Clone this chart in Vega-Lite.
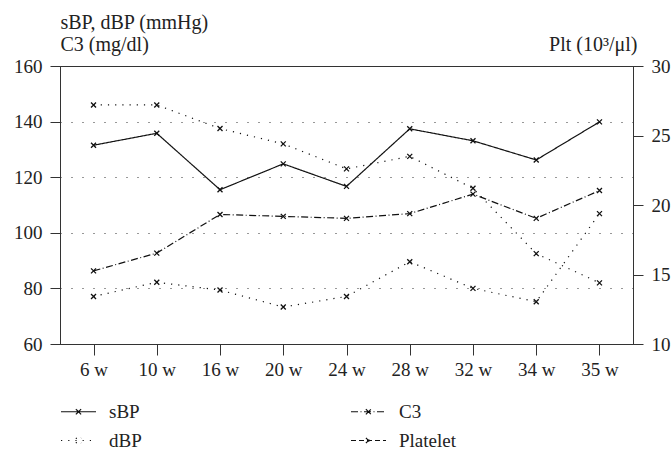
{
 "$schema": "https://vega.github.io/schema/vega-lite/v6.json",
 "width": 573,
 "height": 278,
 "autosize": {"type": "none"},
 "padding": {"left": 60, "top": 66, "right": 39, "bottom": 107},
 "background": "white",
 "config": {
  "view": {"stroke": "#333", "strokeWidth": 1},
  "font": "Liberation Serif",
  "axis": {"labelFont": "Liberation Serif", "titleFont": "Liberation Serif", "labelFontSize": 19, "titleFontSize": 20, "labelColor": "#222", "titleColor": "#222", "domainColor": "#333", "tickColor": "#333", "titleFontWeight": "normal"},
  "legend": {"labelFont": "Liberation Serif", "titleFont": "Liberation Serif"}
 },
 "data": {"values": [
  {"week": "6 w", "series": "sBP", "value": 131.5},
  {"week": "10 w", "series": "sBP", "value": 135.8},
  {"week": "16 w", "series": "sBP", "value": 115.5},
  {"week": "20 w", "series": "sBP", "value": 124.8},
  {"week": "24 w", "series": "sBP", "value": 116.7},
  {"week": "28 w", "series": "sBP", "value": 137.4},
  {"week": "32 w", "series": "sBP", "value": 133.1},
  {"week": "34 w", "series": "sBP", "value": 126.2},
  {"week": "35 w", "series": "sBP", "value": 139.9},
  {"week": "6 w", "series": "dBP", "value": 77.1},
  {"week": "10 w", "series": "dBP", "value": 82.2},
  {"week": "16 w", "series": "dBP", "value": 79.4},
  {"week": "20 w", "series": "dBP", "value": 73.3},
  {"week": "24 w", "series": "dBP", "value": 77.1},
  {"week": "28 w", "series": "dBP", "value": 89.6},
  {"week": "32 w", "series": "dBP", "value": 80.0},
  {"week": "34 w", "series": "dBP", "value": 75.2},
  {"week": "35 w", "series": "dBP", "value": 106.9},
  {"week": "6 w", "series": "C3", "value": 86.3},
  {"week": "10 w", "series": "C3", "value": 92.7},
  {"week": "16 w", "series": "C3", "value": 106.6},
  {"week": "20 w", "series": "C3", "value": 105.9},
  {"week": "24 w", "series": "C3", "value": 105.2},
  {"week": "28 w", "series": "C3", "value": 106.9},
  {"week": "32 w", "series": "C3", "value": 113.9},
  {"week": "34 w", "series": "C3", "value": 105.2},
  {"week": "35 w", "series": "C3", "value": 115.2},
  {"week": "6 w", "series": "Platelet", "value": 27.2},
  {"week": "10 w", "series": "Platelet", "value": 27.2},
  {"week": "16 w", "series": "Platelet", "value": 25.5},
  {"week": "20 w", "series": "Platelet", "value": 24.4},
  {"week": "24 w", "series": "Platelet", "value": 22.6},
  {"week": "28 w", "series": "Platelet", "value": 23.5},
  {"week": "32 w", "series": "Platelet", "value": 21.2},
  {"week": "34 w", "series": "Platelet", "value": 16.5},
  {"week": "35 w", "series": "Platelet", "value": 14.4}
 ]},
 "encoding": {
  "x": {"field": "week", "type": "ordinal", "sort": ["6 w", "10 w", "16 w", "20 w", "24 w", "28 w", "32 w", "34 w", "35 w"], "scale": {"type": "point", "padding": 0.53}, "axis": {"title": null, "labelAngle": 0, "tickSize": 11, "labelPadding": 5, "grid": false, "labelFont": "Liberation Serif", "labelFontSize": 19}}
 },
 "layer": [
  {
   "transform": [{"filter": "datum.series !== 'Platelet'"}],
   "encoding": {
    "y": {"field": "value", "type": "quantitative", "scale": {"domain": [60, 160], "nice": false, "zero": false},
     "axis": {"orient": "left", "values": [60, 80, 100, 120, 140, 160], "tickSize": 10, "labelPadding": 8, "grid": true, "gridDash": [1, 10], "gridColor": "#333", "gridWidth": 1.2,
      "labelFont": "Liberation Serif", "labelFontSize": 19,
      "title": ["sBP, dBP (mmHg)", "C3 (mg/dl)"], "titleFont": "Liberation Serif", "titleFontSize": 20, "titleAngle": 0, "titleAlign": "left", "titleBaseline": "alphabetic", "titleX": 0, "titleY": -38, "titleLineHeight": 22}}
   },
   "layer": [
    {"mark": {"type": "line", "color": "#111", "strokeWidth": 1.2},
     "encoding": {"strokeDash": {"field": "series", "type": "nominal",
      "scale": {"domain": ["sBP", "dBP", "C3", "Platelet"], "range": [[1, 0], [1.2, 6], [7, 2.5, 1, 2.5], [5, 3]]},
      "legend": {"title": null, "orient": "none", "legendX": 0, "legendY": 327, "columns": 2, "symbolType": "M-1,0L1,0M-0.15,-0.15L0.15,0.15M-0.15,0.15L0.15,-0.15", "symbolSize": 1225, "symbolStrokeWidth": 1.2, "symbolStrokeColor": "#111", "symbolFillColor": "transparent", "labelFontSize": 19, "labelFont": "Liberation Serif", "labelColor": "#222", "labelOffset": 12, "columnPadding": 206, "rowPadding": -6}}}},
    {"mark": {"type": "point", "shape": "M-1,-1L1,1M-1,1L1,-1", "size": 25, "filled": false, "color": "#111", "strokeWidth": 1.3, "opacity": 1}}
   ]
  },
  {
   "transform": [{"filter": "datum.series === 'Platelet'"}],
   "encoding": {
    "y": {"field": "value", "type": "quantitative", "scale": {"domain": [10, 30], "nice": false, "zero": false},
     "axis": {"orient": "right", "values": [10, 15, 20, 25, 30], "tickSize": 10, "labelPadding": 8, "grid": false,
      "labelFont": "Liberation Serif", "labelFontSize": 19,
      "title": "Plt (10³/μl)", "titleFont": "Liberation Serif", "titleFontSize": 20, "titleAngle": 0, "titleAlign": "right", "titleBaseline": "alphabetic", "titleX": 4, "titleY": -16}}
   },
   "layer": [
    {"mark": {"type": "line", "color": "#111", "strokeWidth": 1.2, "strokeDash": [1.2, 6]}, "encoding": {}},
    {"mark": {"type": "point", "shape": "M-1,-1L1,1M-1,1L1,-1", "size": 25, "filled": false, "color": "#111", "strokeWidth": 1.3, "opacity": 1}}
   ]
  }
 ],
 "resolve": {"scale": {"y": "independent"}}
}
